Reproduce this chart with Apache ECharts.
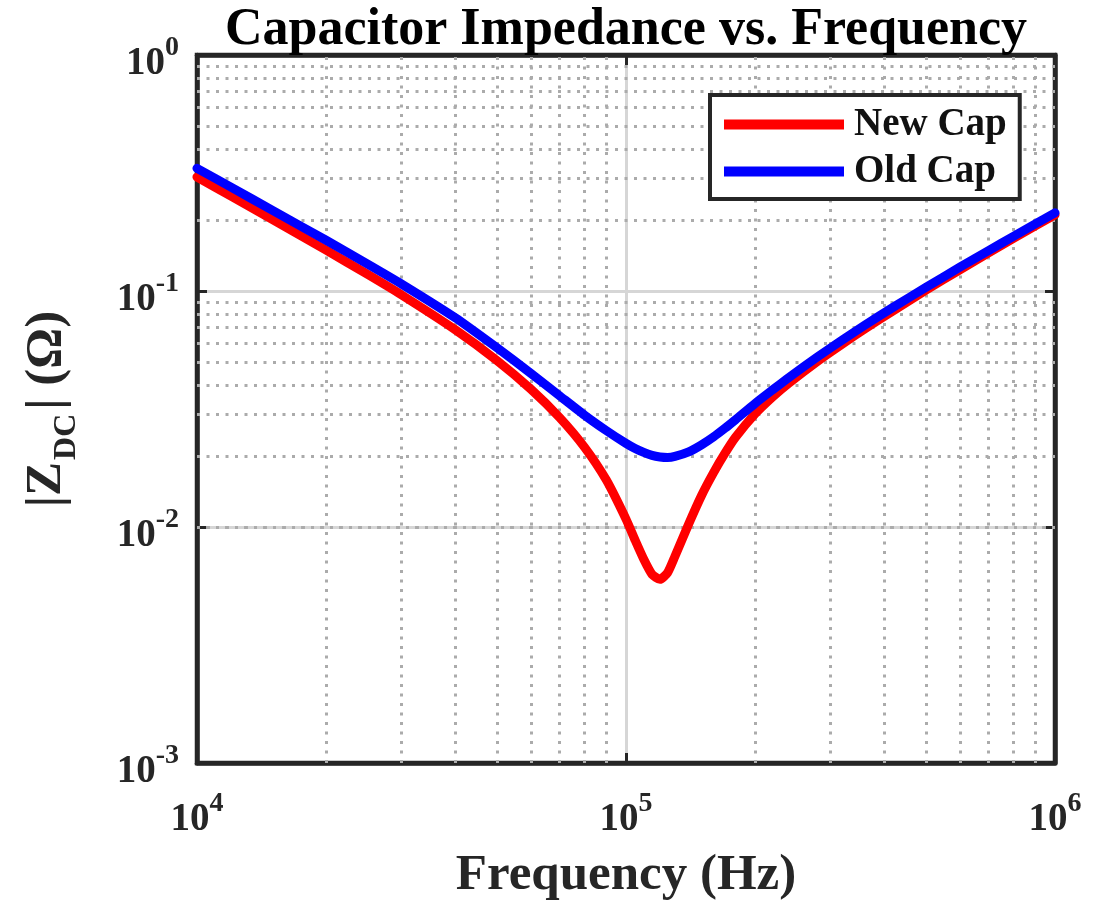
<!DOCTYPE html>
<html><head><meta charset="utf-8">
<script src="https://cdn.jsdelivr.net/npm/echarts@6/dist/echarts.min.js"></script>
<style>html,body{margin:0;padding:0;background:#fff}#chart{width:1111px;height:906px}</style>
</head><body><div id="chart"></div>
<script>
// ---- data ----
const freqHz = [10000, 12000, 15000, 20000, 25000, 30000, 40000, 50000, 60000, 70000, 80000, 90000,
  100000, 105000, 110000, 115000, 120000, 125000, 130000, 140000, 150000, 160000, 170000, 180000,
  200000, 220000, 240000, 280000, 320000, 360000, 420000, 500000, 600000, 700000, 800000, 900000, 1000000];
const newCapOhm = [0.304, 0.2525, 0.2008, 0.149, 0.1175, 0.0962, 0.0685, 0.0508, 0.0384, 0.0291, 0.0218, 0.0158,
  0.0108, 0.0088, 0.0073, 0.0063, 0.0060, 0.0064, 0.0075, 0.0103, 0.0136, 0.0170, 0.0205, 0.0240,
  0.0302, 0.0357, 0.0408, 0.0505, 0.0598, 0.0690, 0.0826, 0.1008, 0.1230, 0.1450, 0.1670, 0.1888, 0.2105];
const oldCapOhm = [0.331, 0.2756, 0.2196, 0.164, 0.130, 0.107, 0.077, 0.0575, 0.0448, 0.0360, 0.0298, 0.0256,
  0.0226, 0.0215, 0.0207, 0.0201, 0.0198, 0.0197, 0.0199, 0.0208, 0.0223, 0.0241, 0.0262, 0.0285,
  0.0334, 0.0382, 0.0431, 0.0527, 0.0622, 0.0716, 0.0854, 0.1036, 0.1261, 0.1483, 0.1704, 0.1924, 0.2143];
const seriesNames = ['New Cap', 'Old Cap'];
const xTickExponents = [4, 5, 6];
const yTickExponents = [-3, -2, -1, 0];
const xMinorGridHz = [20000, 30000, 40000, 50000, 60000, 70000, 80000, 90000,
  200000, 300000, 400000, 500000, 600000, 700000, 800000, 900000];
const yMinorGridOhm = [0.002, 0.003, 0.004, 0.005, 0.006, 0.007, 0.008, 0.009,
  0.02, 0.03, 0.04, 0.05, 0.06, 0.07, 0.08, 0.09,
  0.2, 0.3, 0.4, 0.5, 0.6, 0.7, 0.8, 0.9];

const FONT = '"Liberation Serif", "Times New Roman", serif';
const INK = '#262626';

function expLabel(list) {
  return function (v) {
    const e = Math.round(Math.log10(v));
    if (list.indexOf(e) < 0) return '';
    return '{b|10}{s|' + e + '}';
  };
}
const tickRich = {
  b: { fontFamily: FONT, fontWeight: 'bold', fontSize: 39, lineHeight: 60, color: INK },
  s: { fontFamily: FONT, fontWeight: 'bold', fontSize: 28, lineHeight: 28, verticalAlign: 'top', color: INK }
};
const frameTick = { show: true, inside: true, length: 10, lineStyle: { color: INK, width: 3 } };
const frameLine = { show: true, lineStyle: { color: INK, width: 4.5 } };
const majorGrid = { show: true, showMinLine: false, showMaxLine: false, lineStyle: { color: '#d6d6d6', width: 3 } };

const chart = echarts.init(document.getElementById('chart'), null, { renderer: 'canvas' });
chart.setOption({
  animation: false,
  backgroundColor: '#fff',
  title: {
    text: 'Capacitor Impedance vs. Frequency',
    left: 626, top: 5, textAlign: 'center', padding: 0,
    textStyle: { fontFamily: FONT, fontWeight: 'bold', fontSize: 52, lineHeight: 52, color: '#000' }
  },
  grid: {
    left: 197, right: 56, top: 55, bottom: 141,
    show: true, borderColor: INK, borderWidth: 4.5, backgroundColor: '#fff'
  },
  legend: {
    orient: 'vertical', left: 710, top: 95,
    padding: [10, 13, 8, 14], itemGap: 8,
    itemWidth: 120, itemHeight: 10, icon: 'rect',
    borderColor: INK, borderWidth: 4, backgroundColor: '#fff',
    textStyle: { fontFamily: FONT, fontWeight: 'bold', fontSize: 39, color: '#111', padding: [0, 0, 0, 5] },
    data: seriesNames
  },
  xAxis: [{
    type: 'log', logBase: 10, min: 1e4, max: 1e6,
    name: 'Frequency (Hz)', nameLocation: 'middle', nameGap: 87,
    nameTextStyle: { fontFamily: FONT, fontWeight: 'bold', fontSize: 51, color: INK },
    axisLine: frameLine, axisTick: frameTick,
    axisLabel: { margin: 27, formatter: expLabel(xTickExponents), rich: tickRich },
    splitLine: majorGrid
  }, {
    type: 'log', logBase: 10, min: 1e4, max: 1e6, position: 'top',
    axisLine: frameLine, axisTick: frameTick, axisLabel: { show: false }, splitLine: { show: false }
  }],
  yAxis: [{
    type: 'log', logBase: 10, min: 1e-3, max: 1,
    name: '{b||Z}{sub|DC}{b|| (Ω)}', nameLocation: 'middle', nameGap: 114, nameRotate: 90,
    nameTextStyle: {
      rich: {
        b: { fontFamily: FONT, fontWeight: 'bold', fontSize: 51, lineHeight: 72, color: INK },
        sub: { fontFamily: FONT, fontWeight: 'bold', fontSize: 32, lineHeight: 34, verticalAlign: 'bottom', padding: [0, 4, 0, 2], color: INK }
      }
    },
    axisLine: frameLine, axisTick: frameTick,
    axisLabel: { margin: 18, padding: [18, 0, 0, 0], formatter: expLabel(yTickExponents), rich: tickRich },
    splitLine: majorGrid
  }, {
    type: 'log', logBase: 10, min: 1e-3, max: 1, position: 'right',
    axisLine: frameLine, axisTick: frameTick, axisLabel: { show: false }, splitLine: { show: false }
  }],
  series: [
    {
      name: seriesNames[0], type: 'line', z: 3,
      data: freqHz.map((f, i) => [f, newCapOhm[i]]),
      showSymbol: false, symbol: 'none', smooth: 0.2,
      lineStyle: { color: '#ff0000', width: 9, cap: 'round', join: 'round' },
      itemStyle: { color: '#ff0000' },
      markLine: {
        z: 1, silent: true, symbol: ['none', 'none'], animation: false,
        label: { show: false },
        lineStyle: { color: '#ababab', width: 3, type: [3, 6.5] },
        emphasis: { disabled: true },
        data: xMinorGridHz.map(v => ({ xAxis: v })).concat(yMinorGridOhm.map(v => ({ yAxis: v })))
      }
    },
    {
      name: seriesNames[1], type: 'line', z: 3,
      data: freqHz.map((f, i) => [f, oldCapOhm[i]]),
      showSymbol: false, symbol: 'none', smooth: 0.2,
      lineStyle: { color: '#0000ff', width: 9, cap: 'round', join: 'round' },
      itemStyle: { color: '#0000ff' }
    }
  ]
});
</script></body></html>
